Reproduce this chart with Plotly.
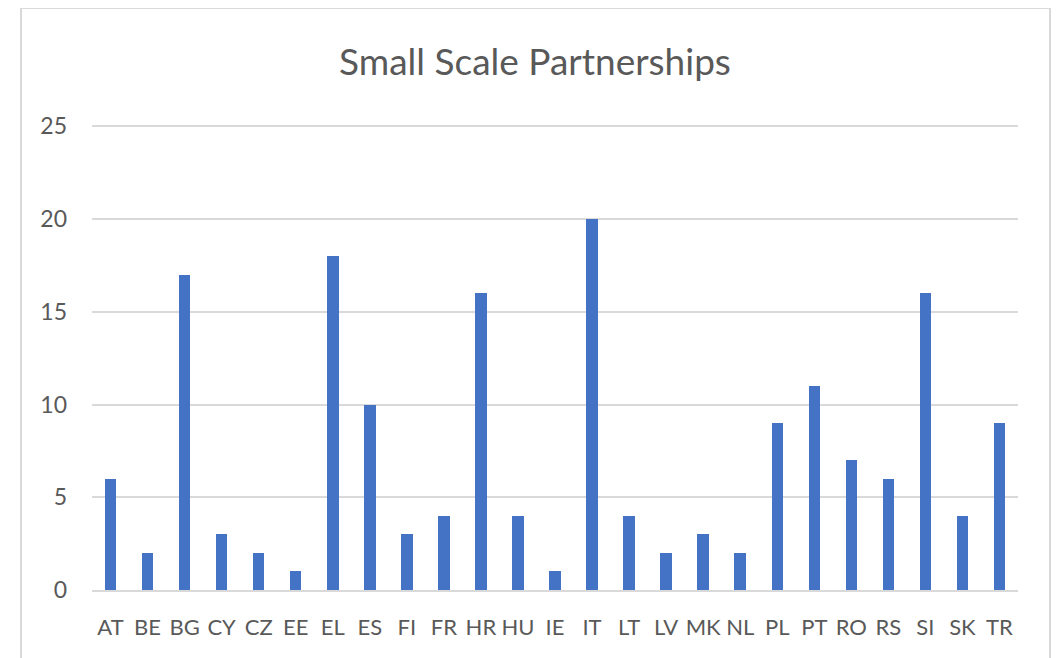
import plotly.graph_objects as go

countries = ["AT", "BE", "BG", "CY", "CZ", "EE", "EL", "ES", "FI", "FR", "HR", "HU", "IE",
             "IT", "LT", "LV", "MK", "NL", "PL", "PT", "RO", "RS", "SI", "SK", "TR"]
values = [6, 2, 17, 3, 2, 1, 18, 10, 3, 4, 16, 4, 1, 20, 4, 2, 3, 2, 9, 11, 7, 6, 16, 4, 9]
y_ticks = [0, 5, 10, 15, 20, 25]

FONT = "Lato"
TEXT = "#595959"
GRID = "#d9d9d9"

fig = go.Figure(go.Bar(x=countries, y=values, marker=dict(color="#4472C4", line=dict(width=0)),
                       width=0.31))

OFF = 8  # page body margin
W, H = 1059 - OFF, 658 - OFF
YMAX = 25.5
# target: x 92..1018, y(0)=590, y(25)=126 in page pixels
unit = (590 - 126) / 25
L, R = 92 - OFF, 1059 - 1018
T = round(126 - (YMAX - 25) * unit) - OFF
B = 658 - 590
pw, ph = W - L - R, H - T - B


def px_x(x):
    return (x - OFF - L) / pw


def px_y(y):
    return (H - B - (y - OFF)) / ph


fig.update_layout(
    width=W, height=H,
    margin=dict(l=L, r=R, t=T, b=B),
    paper_bgcolor="white", plot_bgcolor="white",
    showlegend=False,
    title=dict(text="Small Scale Partnerships", x=px_x(535), xref="paper", xanchor="center",
               y=1 - (62 - OFF) / H, yanchor="middle",
               font=dict(family=FONT, size=37, color=TEXT)),
    font=dict(family=FONT, color=TEXT),
    xaxis=dict(showgrid=False, showline=True, linecolor=GRID, linewidth=1.5,
               tickfont=dict(size=22, color=TEXT), ticks="", tickangle=0,
               ticklabelstandoff=17,
               range=[-0.5, len(countries) - 0.5]),
    yaxis=dict(range=[0, YMAX], tickvals=y_ticks, showgrid=True, gridcolor=GRID, gridwidth=1.5,
               zeroline=False, showline=False, ticks="", ticklabelstandoff=24,
               tickfont=dict(size=23, color=TEXT)),
    bargap=0,
    shapes=[dict(type="rect", xref="paper", yref="paper",
                 x0=px_x(21), x1=px_x(1050),
                 y0=px_y(675), y1=px_y(8),
                 line=dict(color=GRID, width=2), fillcolor="rgba(0,0,0,0)", layer="below")],
)

fig.write_html("out.html")
